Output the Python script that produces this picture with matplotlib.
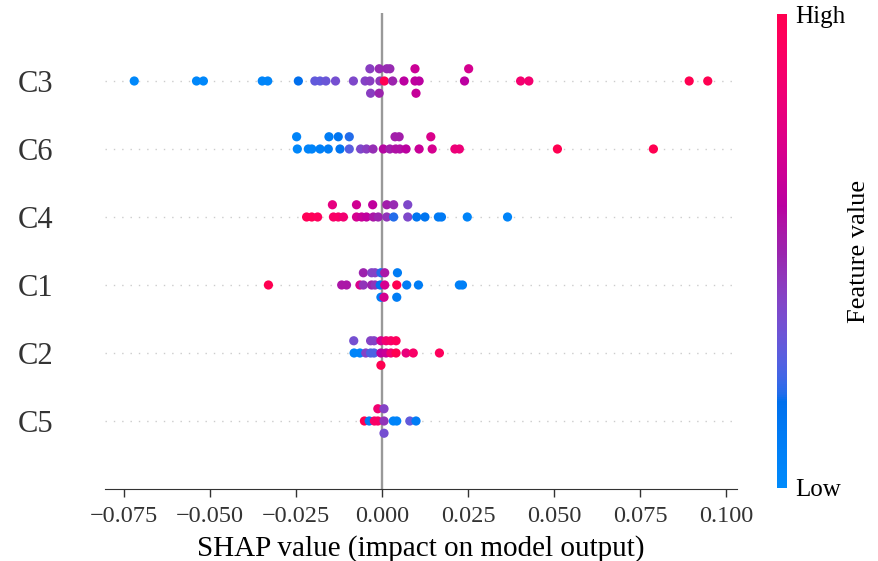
import numpy as np
import matplotlib
matplotlib.use("Agg")
import matplotlib.pyplot as plt
from matplotlib.colors import LinearSegmentedColormap
import matplotlib.cm as cm

plt.rcParams['font.family'] = ['Liberation Serif', 'DejaVu Serif']

# features, bottom to top
features = ["C5", "C2", "C1", "C4", "C6", "C3"]

# SHAP values and (normalised) feature values per feature
c3_shap = [-0.0720, -0.0539, -0.0519, -0.0348, -0.0332, -0.0243, -0.0195, -0.0180,
           -0.0163, -0.0135, -0.0083, -0.0049,
           -0.0035, -0.0035, -0.0033,
           -0.0006, -0.0008, -0.0008,
           0.0007, 0.0014,
           0.0031, 0.0023,
           0.0064,
           0.0096, 0.0096, 0.0099,
           0.0108,
           0.0240, 0.0252,
           0.0403, 0.0427, 0.0893, 0.0947]
c3_feat = [0.02, 0.03, 0.03, 0.04, 0.04, 0.18, 0.30, 0.30,
           0.32, 0.35, 0.38, 0.40,
           0.42, 0.42, 0.42,
           0.45, 0.48, 0.50,
           1.00, 0.48,
           0.50, 0.48,
           0.60,
           0.62, 0.66, 0.64,
           0.60,
           0.60, 0.70,
           0.86, 0.86, 1.00, 1.00]

c6_shap = [-0.0246, -0.0248,
           -0.0214, -0.0204, -0.0180,
           -0.0156, -0.0154,
           -0.0122, -0.0127,
           -0.0095, -0.0095,
           -0.0062, -0.0045, -0.0026, 0.0004, 0.0023,
           0.0040, 0.0038,
           0.0052, 0.0050,
           0.0070, 0.0108,
           0.0146, 0.0142,
           0.0212, 0.0225, 0.0510, 0.0789]
c6_feat = [0.03, 0.05,
           0.05, 0.05, 0.08,
           0.10, 0.10,
           0.15, 0.15,
           0.28, 0.20,
           0.38, 0.42, 0.47, 0.58, 0.52,
           0.56, 0.52,
           0.56, 0.52,
           0.60, 0.65,
           0.70, 0.72,
           0.82, 0.82, 1.00, 1.00]

c4_shap = [-0.0219, -0.0204, -0.0187,
           -0.0141, -0.0144,
           -0.0127, -0.0112,
           -0.0074, -0.0074,
           -0.0059, -0.0045,
           -0.0025, -0.0027,
           -0.0011,
           0.0014, 0.0014,
           0.0034, 0.0034,
           0.0075, 0.0075,
           0.0101, 0.0125, 0.0164, 0.0173, 0.0248, 0.0365]
c4_feat = [0.97, 0.97, 0.95,
           0.90, 0.78,
           0.90, 0.85,
           0.70, 0.68,
           0.65, 0.62,
           0.55, 0.62,
           0.50,
           0.45, 0.52,
           0.20, 0.48,
           0.38, 0.38,
           0.15, 0.15, 0.12, 0.12, 0.05, 0.05]

c1_shap = [-0.0330, -0.0117, -0.0103, -0.0064,
           -0.0054, -0.0054,
           -0.0030, -0.0030,
           -0.0020, -0.0020,
           -0.0005, -0.0003, -0.0003,
           0.0008, 0.0008, 0.0006,
           0.0043, 0.0045, 0.0043,
           0.0072, 0.0106, 0.0225, 0.0234]
c1_feat = [1.00, 0.55, 0.55, 0.72,
           0.45, 0.50,
           0.50, 0.40,
           0.45, 0.40,
           0.15, 0.20, 0.10,
           0.70, 0.55, 0.70,
           1.00, 0.10, 0.10,
           0.10, 0.10, 0.08, 0.08]

c2_shap = [-0.0081, -0.0082,
           -0.0064, -0.0047,
           -0.0033, -0.0033,
           -0.0023, -0.0023,
           -0.0003, -0.0003, -0.0003,
           0.0012, 0.0012,
           0.0026, 0.0026,
           0.0041, 0.0041,
           0.0070, 0.0091, 0.0167]
c2_feat = [0.05, 0.35,
           0.05, 0.40,
           0.25, 0.40,
           0.25, 0.40,
           0.60, 0.70, 1.00,
           0.65, 0.85,
           0.85, 0.90,
           1.00, 0.95,
           0.80, 0.90, 0.95]

c5_shap = [-0.0051, -0.0037, -0.0022,
           -0.0012, -0.0012,
           0.0006, 0.0006, 0.0006,
           0.0033, 0.0043, 0.0081, 0.0099]
c5_feat = [1.00, 0.10, 0.90,
           0.90, 0.85,
           0.45, 0.40, 0.35,
           0.05, 0.05, 0.30, 0.10]

shap_rows = [c5_shap, c2_shap, c1_shap, c4_shap, c6_shap, c3_shap]
feat_rows = [c5_feat, c2_feat, c1_feat, c4_feat, c6_feat, c3_feat]

xticks = [-0.075, -0.050, -0.025, 0.000, 0.025, 0.050, 0.075, 0.100]


# ---- SHAP red_blue colormap (LCH interpolation) ----
def lch_to_rgb(L, C, H):
    a = C * np.cos(H)
    b = C * np.sin(H)
    fy = (L + 16.0) / 116.0
    fx = fy + a / 500.0
    fz = max(fy - b / 200.0, 0.0)

    def finv(t):
        return t ** 3 if t > 6 / 29 else 3 * (6 / 29) ** 2 * (t - 4 / 29)
    xyz = np.array([0.95047 * finv(fx), finv(fy), 1.08883 * finv(fz)])
    M = np.array([[3.24048134, -1.53715152, -0.49853633],
                  [-0.96925495, 1.87599, 0.04155593],
                  [0.05564664, -0.20404134, 1.05731107]])
    lin = M @ xyz
    lin = np.clip(lin, 0, None)
    rgb = np.where(lin > 0.0031308, 1.055 * np.power(lin, 1 / 2.4) - 0.055, 12.92 * lin)
    return np.clip(rgb, 0, 1)


blue_lch = [54., 70., 4.6588]
l_mid = 40.
red_lch = [54., 90., 0.35470565 + 2 * np.pi]
nsteps = 100
l_vals = list(np.linspace(blue_lch[0], l_mid, nsteps // 2)) + list(np.linspace(l_mid, red_lch[0], nsteps // 2))
c_vals = np.linspace(blue_lch[1], red_lch[1], nsteps)
h_vals = np.linspace(blue_lch[2], red_lch[2], nsteps)
cols = [lch_to_rgb(l, c, h) for l, c, h in zip(l_vals, c_vals, h_vals)]
red_blue = LinearSegmentedColormap.from_list("red_blue", cols)

# ---- figure ----
W, H = 879, 561
fig = plt.figure(figsize=(W / 100, H / 100), dpi=100)
ax = fig.add_axes([105 / W, 1 - 489 / H, 632 / W, 476 / H])

row_height = 0.4
nbins = 100
for pos, (shaps, fv) in enumerate(zip(shap_rows, feat_rows)):
    shaps = np.asarray(shaps, dtype=float)
    fv = np.asarray(fv, dtype=float)
    ax.axhline(y=pos, color="#cccccc", lw=1.0, dashes=(1, 5), zorder=-1)
    N = len(shaps)
    quant = np.round(nbins * (shaps - shaps.min()) / (shaps.max() - shaps.min() + 1e-8))
    inds = np.argsort(quant, kind="stable")
    layer = 0
    last_bin = -1
    ys = np.zeros(N)
    for ind in inds:
        if quant[ind] != last_bin:
            layer = 0
        ys[ind] = np.ceil(layer / 2) * ((layer % 2) * 2 - 1)
        layer += 1
        last_bin = quant[ind]
    ys *= 0.9 * (row_height / np.max(ys + 1))
    ax.scatter(shaps, pos + ys, c=fv, cmap=red_blue, vmin=0, vmax=1,
               s=44, linewidth=0, zorder=3)

ax.axvline(x=0, color="#999999", lw=1.7, zorder=-1)

ax.set_xlim(-0.0805, 0.1032)
ax.set_ylim(-1, len(features))
ax.set_xticks(xticks)
ax.set_yticks(range(len(features)))
ax.set_yticklabels(features)
for s in ["right", "top", "left"]:
    ax.spines[s].set_visible(False)
ax.spines["bottom"].set_color("#333333")
ax.tick_params(axis="y", length=0, pad=37, labelsize=22, labelcolor="#333333")
ax.tick_params(axis="x", labelsize=17.5, color="#333333", labelcolor="#333333",
               length=6, width=1, pad=6)
ax.set_xlabel("SHAP value (impact on model output)", fontsize=21, labelpad=6)

# colorbar
cax = fig.add_axes([777 / W, 1 - 488 / H, 10 / W, 474 / H])
m = cm.ScalarMappable(cmap=red_blue)
m.set_array([0, 1])
cb = fig.colorbar(m, cax=cax, ticks=[0, 1])
cb.set_ticklabels(["Low", "High"])
cb.ax.tick_params(labelsize=18, length=0, pad=6)
cb.set_label("Feature value", size=19, labelpad=2)
cb.outline.set_visible(False)

fig.savefig("out.png", dpi=100)
